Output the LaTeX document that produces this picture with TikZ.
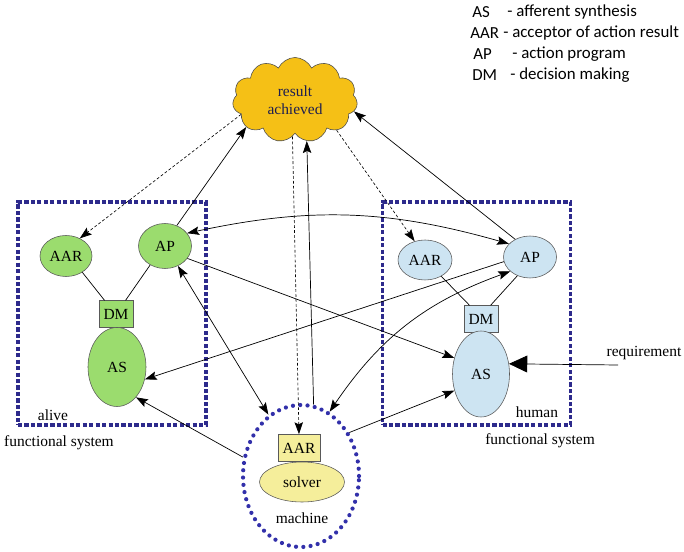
\documentclass[tikz,border=0pt]{standalone}
\usepackage{fontspec}
\setmainfont{Liberation Serif}
\newfontfamily\diagramfont{Liberation Serif}
\newfontfamily\legendfont{Carlito}
\usepackage{tikz}
\usepackage{xcolor}
\usetikzlibrary{shapes.geometric, shapes.symbols, arrows.meta, positioning}

\definecolor{alivegreen}{RGB}{155,220,110}
\definecolor{humanblue}{RGB}{205,228,242}
\definecolor{machineyellow}{RGB}{245,238,155}
\definecolor{cloudorange}{RGB}{245,192,22}
\definecolor{cloudtext}{RGB}{30,30,80}
\definecolor{boxnavy}{RGB}{45,42,140}
\definecolor{dotblue}{RGB}{50,48,170}

\tikzset{
  >={Stealth[length=8.5pt,width=6pt,inset=1.5pt]},
  organ/.style={ellipse, draw=black!65, line width=0.4pt, inner sep=0pt},
  dmbox/.style={rectangle, draw=black!65, line width=0.4pt, inner sep=0pt, minimum width=0.85cm, minimum height=0.67cm},
  fsbox/.style={rectangle, draw=boxnavy, line width=2.6pt, dash pattern=on 3pt off 1.6pt, minimum width=4.7cm, minimum height=5.575cm},
  link/.style={line width=0.5pt},
  feedback/.style={line width=0.45pt, dash pattern=on 2pt off 1.5pt},
  legend/.style={anchor=west, inner sep=0pt, font=\legendfont\fontsize{12}{14}\selectfont},
}

\begin{document}
\begin{tikzpicture}[font=\diagramfont\fontsize{11}{13}\selectfont]
\useasboundingbox (0,0) rectangle (17.1,13.775);

% legend
\node[legend] at (11.8,13.475) (lgAS) {AS};
\node[legend] at (12.675,13.475) (lgASt) {- afferent synthesis};
\node[legend] at (11.75,12.95) (lgAAR) {AAR};
\node[legend] at (12.575,12.95) (lgAARt) {- acceptor of action result};
\node[legend] at (11.825,12.425) (lgAP) {AP};
\node[legend] at (12.8,12.425) (lgAPt) {- action program};
\node[legend] at (11.8,11.9) (lgDM) {DM};
\node[legend] at (12.75,11.9) (lgDMt) {- decision making};

% result
\node[cloud, cloud puffs=11, cloud puff arc=130, aspect=1.5, draw=black!70, fill=cloudorange,
      minimum width=3.125cm, minimum height=2.125cm, align=center, text=cloudtext]
      at (7.375,11.275) (cloud) {result\\achieved};

% functional systems
\node[fsbox] at (2.8,5.9375) (alivefs) {};
\node[fsbox] at (11.9125,5.9375) (humanfs) {};

\node[organ, fill=alivegreen, minimum width=1.3cm, minimum height=1.025cm] at (1.65,7.375) (lAAR) {AAR};
\node[organ, fill=alivegreen, minimum width=1.325cm, minimum height=1.125cm] at (4.125,7.625) (lAP) {AP};
\node[dmbox, fill=alivegreen] at (2.9,5.925) (lDM) {DM};
\node[organ, fill=alivegreen, minimum width=1.45cm, minimum height=1.975cm] at (2.925,4.6) (lAS) {AS};
\node at (1.325,3.4) (alive) {alive};
\node at (1.475,2.7) (alivecap) {functional system};

\node[organ, fill=humanblue, minimum width=1.35cm, minimum height=1.0cm] at (10.625,7.275) (rAAR) {AAR};
\node[organ, fill=humanblue, minimum width=1.325cm, minimum height=1.05cm] at (13.25,7.35) (rAP) {AP};
\node[dmbox, fill=humanblue] at (12.025,5.8) (rDM) {DM};
\node[organ, fill=humanblue, minimum width=1.425cm, minimum height=2.15cm] at (12.025,4.425) (rAS) {AS};
\node at (13.425,3.475) (human) {human};
\node at (13.5,2.75) (humancap) {functional system};

% machine
\node[ellipse, draw=dotblue, line width=3pt, dash pattern=on 0pt off 5.2pt, line cap=round,
      minimum width=2.9cm, minimum height=3.55cm] at (7.525,1.875) (machine) {};
\node[organ, fill=machineyellow, minimum width=2.125cm, minimum height=1.0cm] at (7.55,1.725) (solver) {solver};
\node[dmbox, fill=machineyellow, minimum width=1.05cm, minimum height=0.675cm] at (7.475,2.575) (mAAR) {AAR};
\node at (7.55,0.825) (machinelbl) {machine};

% requirement
\coordinate (reqstart) at (15.45,4.65);
\node at (16.1,4.95) (req) {requirement};

% connections
\draw[link] (lAAR.315) -- (lDM.130);
\draw[link] (lAP.232) -- (lDM.55);
\draw[link] (rAAR.315) -- (rDM.130);
\draw[link] (rAP.236) -- (rDM.55);

\draw[feedback, ->] (cloud.195) -- (lAAR.52);
\draw[link, ->] (lAP.60) -- (cloud.209);
\draw[feedback, ->] (cloud.266) -- (mAAR.north);
\draw[link, ->] (machine.80) -- (cloud.286);
\draw[feedback, ->] (cloud.324) -- (rAAR.119);
\draw[link, ->] (rAP.130) -- (cloud.349);

\draw[link, <->] (lAP.30) to[bend left=14] (rAP.148);
\draw[link, ->] (lAP.331) -- (rAS.149);
\draw[link, ->] (rAP.190) -- (lAS.336);
\draw[link, <->] (lAP.303) -- (machine.118);
\draw[link, <->] (rAP.216) to[bend right=18] (machine.66);
\draw[link, ->] (machine.162) -- (lAS.302);
\draw[link, ->] (machine.42) -- (rAS.212);
\draw[link, -{Triangle[length=13pt,width=12pt]}] (reqstart) -- (rAS.20);

\end{tikzpicture}
\end{document}
